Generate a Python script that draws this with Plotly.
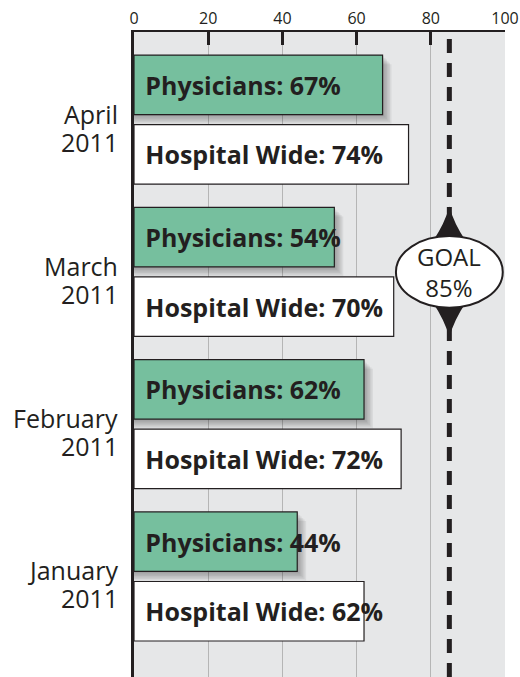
import plotly.graph_objects as go

month_names = ["April", "March", "February", "January"]
years = ["2011", "2011", "2011", "2011"]
categories = [f"{m} {y}" for m, y in zip(month_names, years)]
physicians = [67, 54, 62, 44]
hospital = [74, 70, 72, 62]
goal = 85
x_ticks = [0, 20, 40, 60, 80, 100]

INK = "#231f20"
GREEN = "#76bf9e"
FONT = "Open Sans"
PAD = "\u2009\u2009"
BARGAP = 0.087
BARGROUPGAP = 0.144

fig = go.Figure()
fig.add_trace(go.Bar(
    y=categories, x=physicians, orientation="h", name="Physicians",
    marker=dict(color=GREEN, line=dict(color=INK, width=1.2)),
    text=[f"{PAD}Physicians: {v}%" for v in physicians],
    textposition="inside", insidetextanchor="start", constraintext="none",
    textfont=dict(family=FONT, size=25, color=INK, weight="bold"),
    hoverinfo="skip",
))
fig.add_trace(go.Bar(
    y=categories, x=hospital, orientation="h", name="Hospital Wide",
    marker=dict(color="white", line=dict(color=INK, width=1.2)),
    text=[f"{PAD}Hospital Wide: {v}%" for v in hospital],
    textposition="inside", insidetextanchor="start", constraintext="none",
    textfont=dict(family=FONT, size=25, color=INK, weight="bold"),
    hoverinfo="skip",
))

# soft drop shadow behind the physician bars (derived from the bar geometry)
slot = (1 - BARGAP) / 2
half = slot * (1 - BARGROUPGAP) / 2
for i, v in enumerate(physicians):
    yc = i - slot / 2
    for k in range(1, 7):
        fig.add_shape(type="rect", xref="x", yref="y", layer="between",
                      x0=0, x1=v + 0.4 * k, y0=yc - half + 0.01 * k, y1=yc + half + 0.01 * k,
                      fillcolor="rgba(40,40,40,0.07)", line=dict(width=0))

# month / year labels
for c, m, y in zip(categories, month_names, years):
    fig.add_annotation(x=0, xref="paper", y=c, yref="y", text=m,
                       xanchor="right", yanchor="middle", xshift=-14, yshift=6,
                       showarrow=False, font=dict(family=FONT, size=25, color=INK))
    fig.add_annotation(x=0, xref="paper", y=c, yref="y", text=y,
                       xanchor="right", yanchor="middle", xshift=-14, yshift=-22,
                       showarrow=False, font=dict(family=FONT, size=25, color=INK))

# goal line
fig.add_shape(type="line", xref="x", yref="paper", x0=goal, x1=goal, y0=0, y1=1,
              line=dict(color=INK, width=5, dash="14px,10px"), layer="above")
gy = 1  # badge aligned with the March group
for s in (-1, 1):
    fig.add_shape(type="path", xref="x", yref="y",
                  path=f"M {goal-4.5},{gy+s*0.2} Q {goal-1.2},{gy+s*0.32} {goal},{gy+s*0.43} "
                       f"Q {goal+1.2},{gy+s*0.32} {goal+4.5},{gy+s*0.2} Z",
                  fillcolor=INK, line=dict(width=0), layer="above")
fig.add_shape(type="circle", xref="x", yref="y",
              x0=goal - 14.4, x1=goal + 14.4, y0=gy - 0.235, y1=gy + 0.235,
              fillcolor="white", line=dict(color=INK, width=2), layer="above")
fig.add_annotation(x=goal, y=gy, xref="x", yref="y", text=f"GOAL<br>{goal}%",
                   showarrow=False, font=dict(family=FONT, size=24, color=INK),
                   align="center")

fig.update_layout(
    width=520, height=677,
    margin=dict(l=134, r=15, t=32, b=0),
    paper_bgcolor="white", plot_bgcolor="#e6e7e8",
    barmode="group", bargap=BARGAP, bargroupgap=BARGROUPGAP,
    showlegend=False,
    xaxis=dict(side="top", range=[0, 100], tickvals=x_ticks,
               showline=True, linecolor=INK, linewidth=2,
               ticks="inside", ticklen=13, tickwidth=3, tickcolor=INK,
               showgrid=True, gridcolor="#b5b5b5", gridwidth=1,
               zeroline=False, tickfont=dict(family=FONT, size=16, color=INK)),
    yaxis=dict(range=[3.66, -0.575], showticklabels=False,
               showline=True, linecolor=INK, linewidth=3, showgrid=False,
               zeroline=False, ticks=""),
)

# remove the default 8px page margin so the figure fills the window exactly
fig.write_html("out.html", config={"displayModeBar": False},
               post_script="document.body.style.margin='0';document.body.style.overflow='hidden';")
